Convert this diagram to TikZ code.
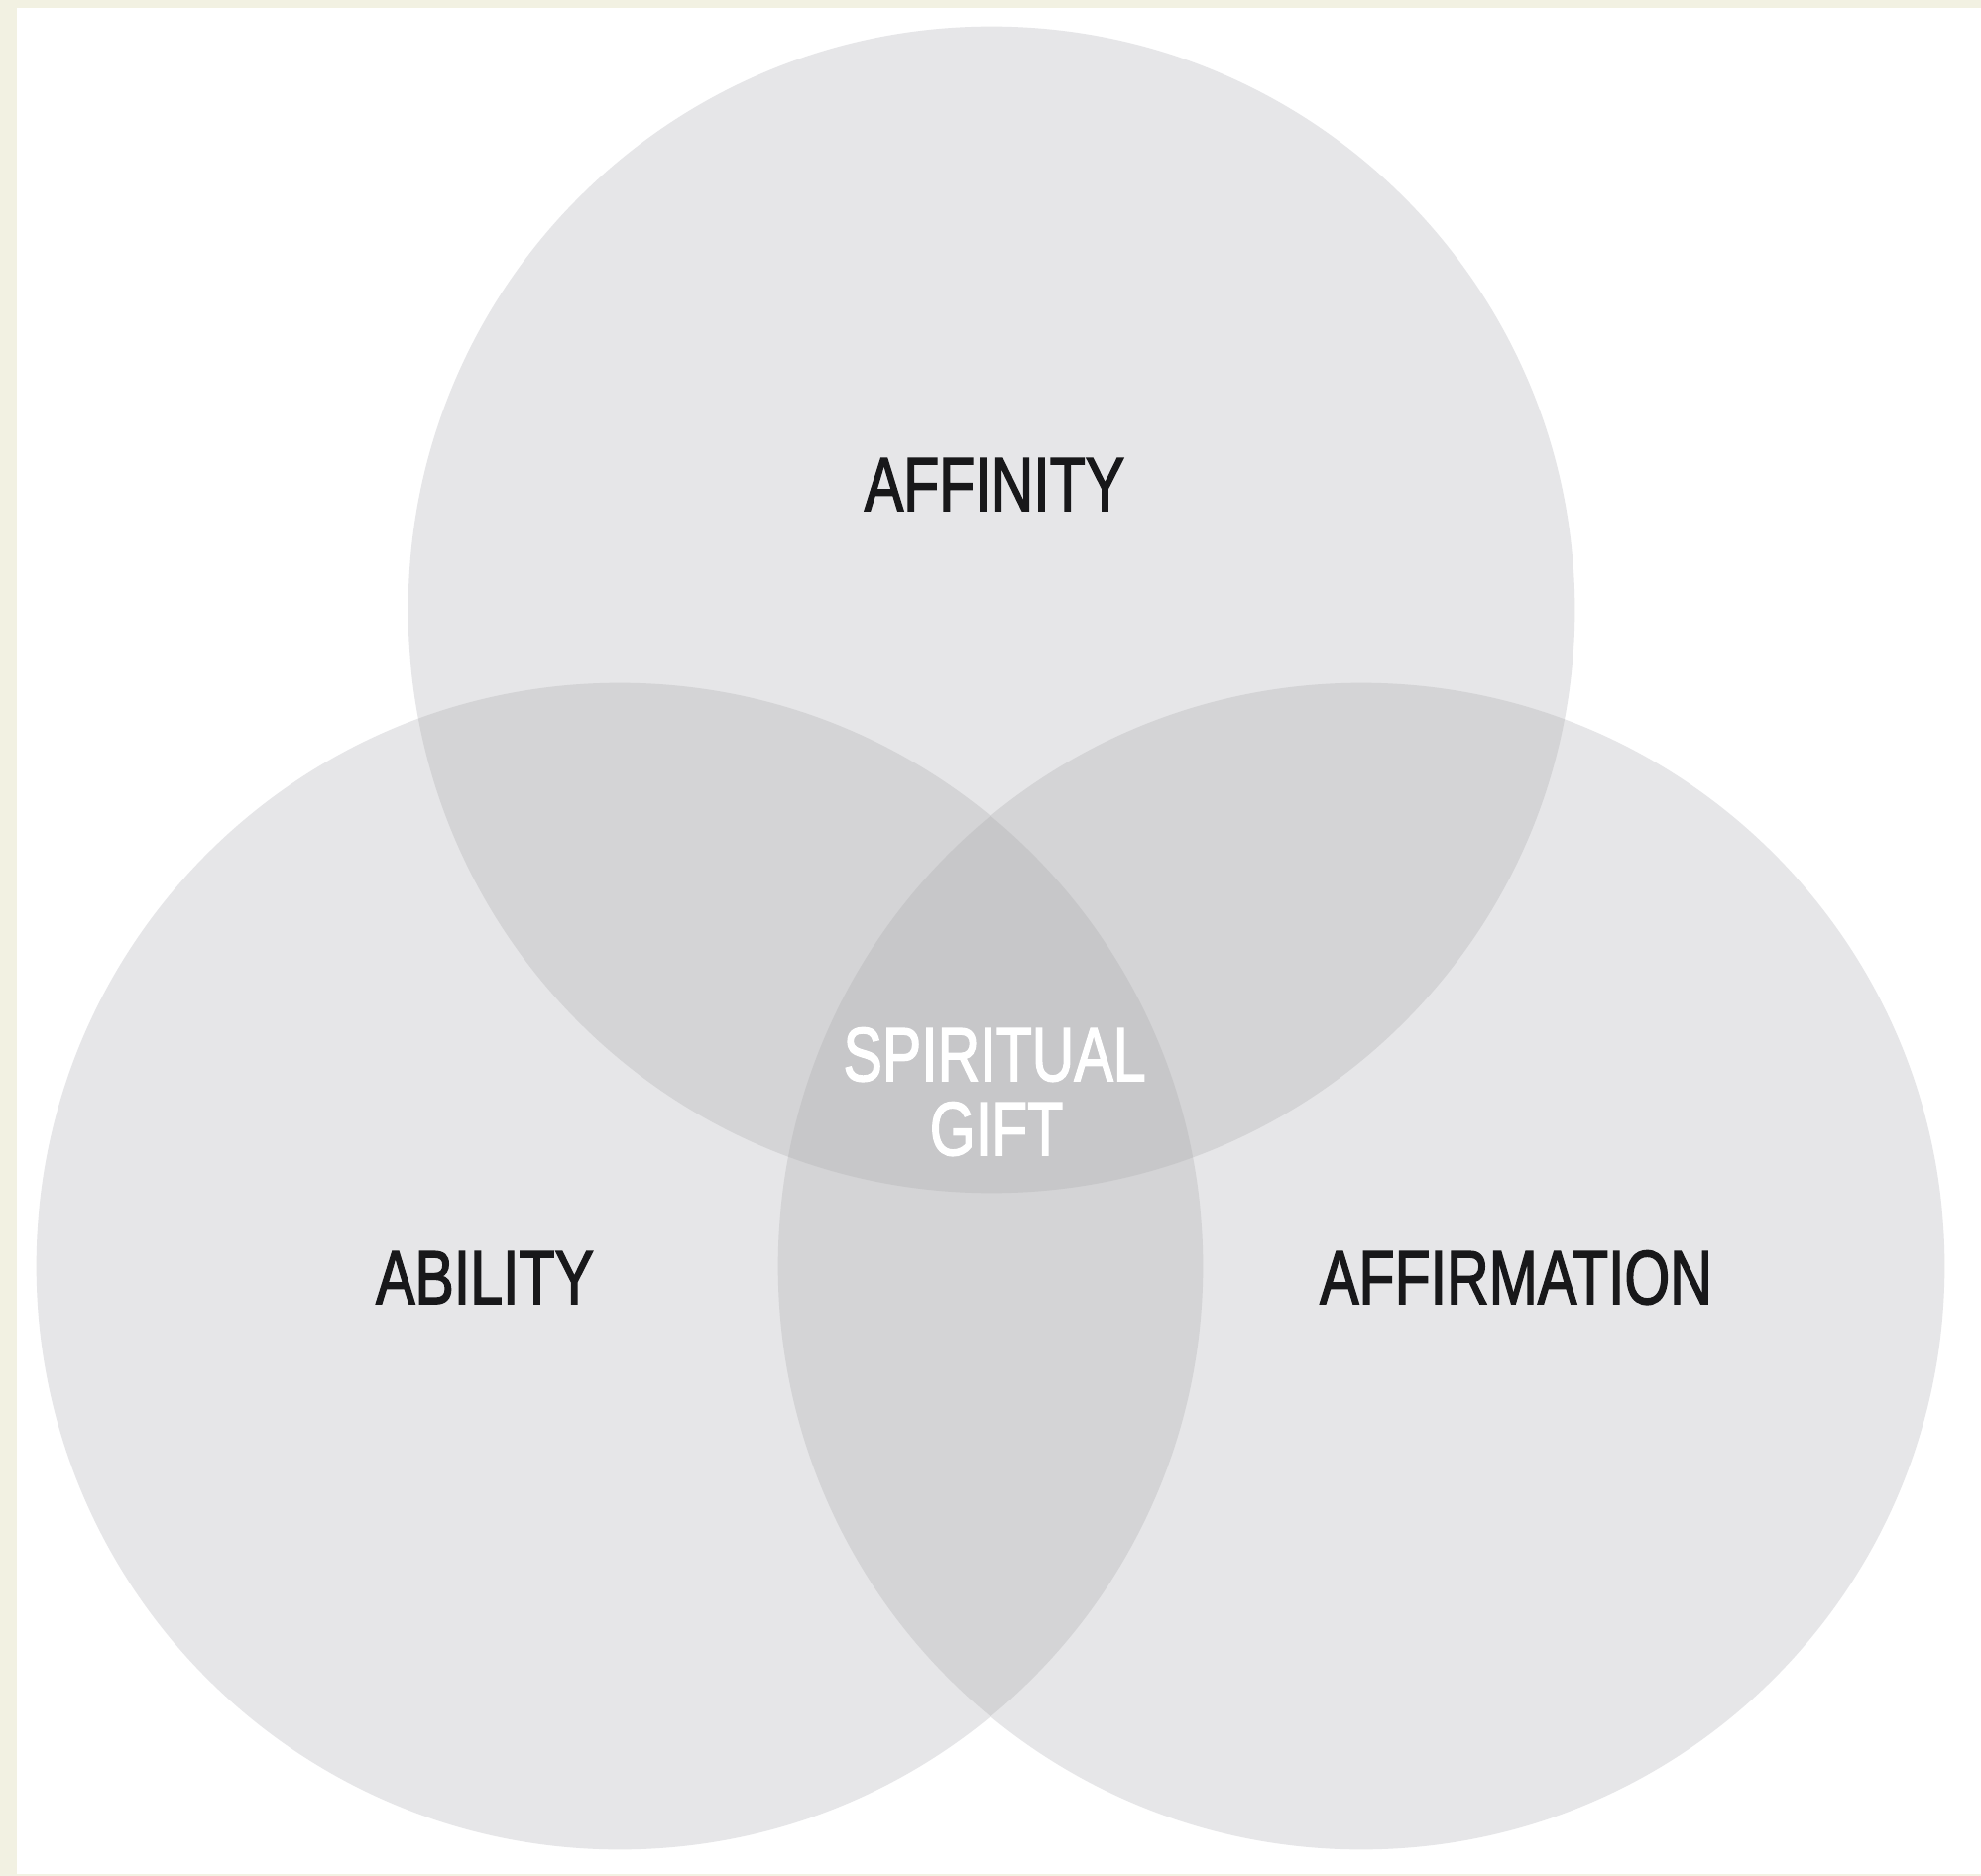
\documentclass[tikz,border=0pt]{standalone}
\usepackage{fontspec}
\setmainfont{Liberation Sans}
\newfontfamily\labelfont{Liberation Sans}[FakeBold=2.2]
\definecolor{creamcol}{RGB}{242,241,226}
\definecolor{onecol}{RGB}{230,230,232}
\definecolor{twocol}{RGB}{212,212,214}
\definecolor{threecol}{RGB}{199,199,201}
\definecolor{inkcol}{RGB}{24,24,26}
\newcommand\condtext[1]{\scalebox{0.77}[1]{#1}}
\begin{document}
\begin{tikzpicture}[x=0.01cm,y=-0.01cm,
  lbl/.style={font=\labelfont\fontsize{21.8}{21.8}\selectfont, inner sep=0pt, anchor=base, text=inkcol},
  lblw/.style={lbl, text=white}]
\useasboundingbox (0,0) rectangle (1998,1892);
\fill[creamcol] (0,0) rectangle (1998,1892);
\fill[white] (17,8) rectangle (1998,1890);
\coordinate (T) at (1000,615);
\coordinate (L) at (625,1277);
\coordinate (R) at (1373,1277);
\def\rad{5.88cm}
\fill[onecol] (T) circle[radius=\rad];
\fill[onecol] (L) circle[radius=\rad];
\fill[onecol] (R) circle[radius=\rad];
\begin{scope}
  \clip (T) circle[radius=\rad];
  \fill[twocol] (L) circle[radius=\rad];
  \fill[twocol] (R) circle[radius=\rad];
\end{scope}
\begin{scope}
  \clip (L) circle[radius=\rad];
  \fill[twocol] (R) circle[radius=\rad];
\end{scope}
\begin{scope}
  \clip (T) circle[radius=\rad];
  \clip (L) circle[radius=\rad];
  \fill[threecol] (R) circle[radius=\rad];
\end{scope}
\node[lbl] (affinity) at (1003,515) {\condtext{AFFINITY}};
\node[lbl] (ability) at (489,1315) {\condtext{ABILITY}};
\node[lbl] (affirmation) at (1529,1315) {\condtext{AFFIRMATION}};
\node[lblw] (spiritual) at (1003,1090) {\condtext{SPIRITUAL}};
\node[lblw] (gift) at (1005,1165) {\condtext{GIFT}};
\end{tikzpicture}
\end{document}
